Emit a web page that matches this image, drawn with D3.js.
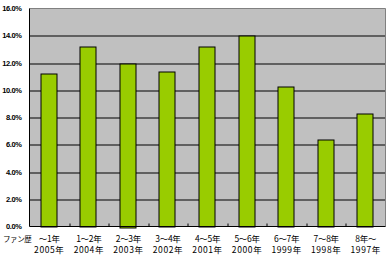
<!DOCTYPE html>
<html>
<head>
<meta charset="utf-8">
<script src="https://cdn.jsdelivr.net/npm/d3@7"></script>
<style>
  html, body { margin: 0; padding: 0; background: #fff; }
  svg { display: block; }
</style>
</head>
<body>
<div id="wrapper"></div>
<script>
// fan history categories (two label rows) and share of respondents
const spans = ["～1年", "1～2年", "2～3年", "3～4年", "4～5年", "5～6年", "6～7年", "7～8年", "8年～"];
const years = ["2005年", "2004年", "2003年", "2002年", "2001年", "2000年", "1999年", "1998年", "1997年"];
const shares = [11.2, 13.2, 12.0, 11.4, 13.2, 14.0, 10.3, 6.4, 8.3];
const yTicks = [0, 2, 4, 6, 8, 10, 12, 14, 16];

function drawBarChart() {
  const dimensions = {
    width: 390,
    height: 260,
    margins: { top: 8.5, left: 29.5, bottom: 33.5, right: 4.5 }
  };
  dimensions.boundedWidth = dimensions.width - dimensions.margins.left - dimensions.margins.right;
  dimensions.boundedHeight = dimensions.height - dimensions.margins.top - dimensions.margins.bottom;

  const svg = d3.select("#wrapper").append("svg")
    .attr("width", dimensions.width)
    .attr("height", dimensions.height);

  const bounds = svg.append("g")
    .attr("transform", `translate(${dimensions.margins.left},${dimensions.margins.top})`);

  const xScale = d3.scaleBand()
    .domain(d3.range(spans.length))
    .range([0, dimensions.boundedWidth])
    .paddingInner(0.6)
    .paddingOuter(0.3);

  const yScale = d3.scaleLinear()
    .domain([0, 16])
    .range([dimensions.boundedHeight, 0]);

  // plot background
  bounds.append("rect")
    .attr("width", dimensions.boundedWidth)
    .attr("height", dimensions.boundedHeight)
    .attr("fill", "#c0c0c0");

  // gridlines
  bounds.append("g")
    .selectAll("line")
    .data(yTicks.filter(d => d > 0 && d < 16))
    .join("line")
    .attr("x1", 0)
    .attr("x2", dimensions.boundedWidth)
    .attr("y1", d => Math.round(yScale(d)) + 0.5)
    .attr("y2", d => Math.round(yScale(d)) + 0.5)
    .attr("stroke", "#000")
    .attr("stroke-width", 1);

  // top / right border in grey
  bounds.append("path")
    .attr("d", `M0,0H${dimensions.boundedWidth}V${dimensions.boundedHeight}`)
    .attr("fill", "none")
    .attr("stroke", "#808080")
    .attr("stroke-width", 1);

  // bars
  const bandStep = xScale.step();
  const barWidth = 16;
  bounds.append("g")
    .selectAll("rect")
    .data(shares)
    .join("rect")
    .attr("x", (d, i) => Math.round(xScale(i) + xScale.bandwidth() / 2 - barWidth / 2) - 0.5)
    .attr("y", d => Math.round(yScale(d)) + 0.5)
    .attr("width", barWidth)
    .attr("height", d => Math.round(dimensions.boundedHeight - yScale(d)))
    .attr("fill", "#99cc00")
    .attr("stroke", "#000")
    .attr("stroke-width", 1);

  // category boundary ticks (inside, pointing up)
  bounds.append("g")
    .selectAll("line")
    .data(d3.range(1, spans.length))
    .join("line")
    .attr("x1", i => Math.round(i * bandStep) + 0.5)
    .attr("x2", i => Math.round(i * bandStep) + 0.5)
    .attr("y1", dimensions.boundedHeight)
    .attr("y2", dimensions.boundedHeight - 3)
    .attr("stroke", "#000");

  // axes lines
  bounds.append("line")
    .attr("x1", 0).attr("x2", 0)
    .attr("y1", 0).attr("y2", dimensions.boundedHeight)
    .attr("stroke", "#000");
  bounds.append("line")
    .attr("x1", 0).attr("x2", dimensions.boundedWidth)
    .attr("y1", dimensions.boundedHeight).attr("y2", dimensions.boundedHeight)
    .attr("stroke", "#000");

  // y tick labels
  bounds.append("g")
    .selectAll("text")
    .data(yTicks)
    .join("text")
    .attr("x", -8)
    .attr("y", d => yScale(d))
    .attr("dy", "0.35em")
    .attr("text-anchor", "end")
    .attr("font-family", "'Liberation Sans', Arial, sans-serif")
    .attr("font-size", 7.5)
    .attr("font-weight", "bold")
    .attr("letter-spacing", -0.4)
    .attr("fill", "#000")
    .text(d => d.toFixed(1) + "%");

  // x labels, two rows
  const labelFont = "'Noto Sans CJK JP', sans-serif";
  const centre = i => xScale(i) + xScale.bandwidth() / 2;

  bounds.append("g")
    .selectAll("text")
    .data(spans)
    .join("text")
    .attr("x", (d, i) => centre(i))
    .attr("y", dimensions.boundedHeight + 15)
    .attr("text-anchor", "middle")
    .attr("font-family", labelFont)
    .attr("font-size", 8.5)
    .attr("letter-spacing", -0.3)
    .attr("fill", "#000")
    .text(d => d);

  bounds.append("g")
    .selectAll("text")
    .data(years)
    .join("text")
    .attr("x", (d, i) => centre(i))
    .attr("y", dimensions.boundedHeight + 26.5)
    .attr("text-anchor", "middle")
    .attr("font-family", labelFont)
    .attr("font-size", 8.5)
    .attr("letter-spacing", 0.6)
    .attr("fill", "#000")
    .text(d => d);

  svg.append("text")
    .attr("x", 3)
    .attr("y", dimensions.margins.top + dimensions.boundedHeight + 15)
    .attr("font-family", labelFont)
    .attr("font-size", 7.5)
    .attr("letter-spacing", -0.4)
    .attr("fill", "#000")
    .text("ファン歴");
}

drawBarChart();
</script>
</body>
</html>
